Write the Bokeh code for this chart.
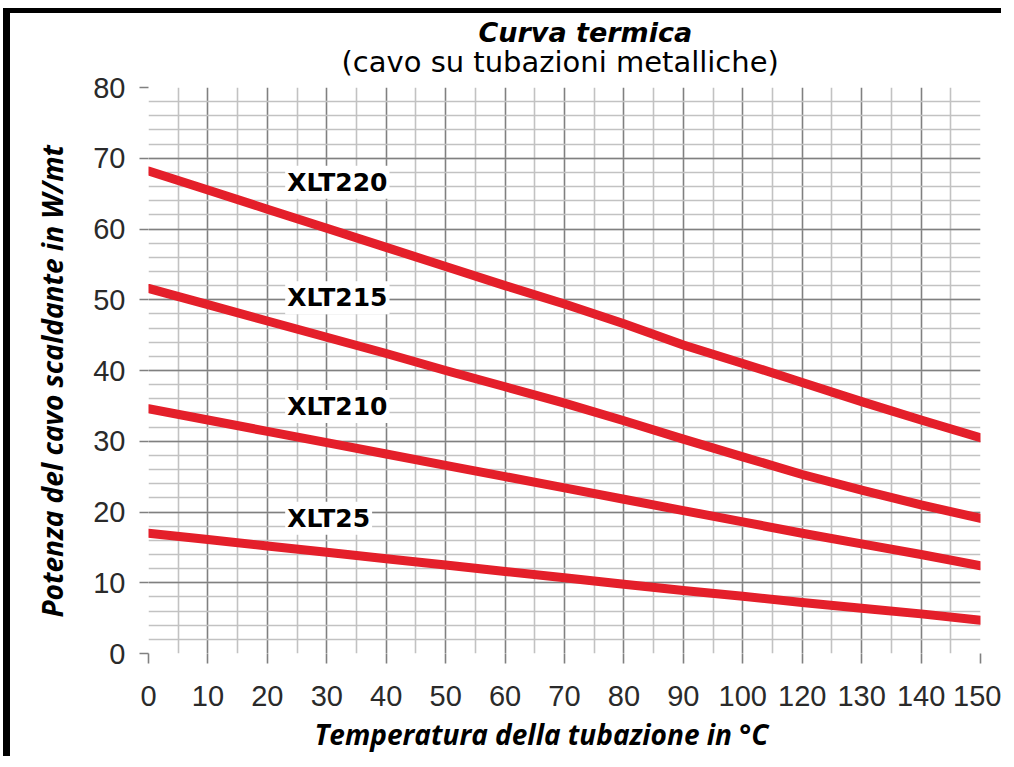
from bokeh.plotting import figure
from bokeh.models import FixedTicker, Label, Title
from bokeh.embed import file_html
from bokeh.resources import INLINE

# ---- data ----
x_labels = ["0", "10", "20", "30", "40", "50", "60", "70", "80", "90",
            "100", "120", "130", "140", "150"]
xlt220 = [68.2, 65.5, 62.8, 60.1, 57.4, 54.7, 52.0, 49.4, 46.6, 43.6, 41.0, 38.3, 35.6, 33.0, 30.5]
xlt215 = [51.6, 49.3, 47.0, 44.7, 42.4, 40.0, 37.7, 35.4, 32.9, 30.3, 27.8, 25.3, 23.1, 21.0, 19.1]
xlt210 = [34.6, 33.0, 31.4, 29.8, 28.2, 26.6, 25.0, 23.4, 21.8, 20.2, 18.6, 17.0, 15.5, 14.0, 12.4]
xlt25 = [17.0, 16.1, 15.2, 14.3, 13.4, 12.5, 11.6, 10.7, 9.8, 8.9, 8.1, 7.2, 6.4, 5.6, 4.7]
series_names = ["XLT220", "XLT215", "XLT210", "XLT25"]
y_ticks = [0, 10, 20, 30, 40, 50, 60, 70, 80]

xpos = list(range(len(x_labels)))

p = figure(width=998, height=748, output_backend="svg", toolbar_location=None,
           x_range=(0, len(x_labels) - 1), y_range=(0, 80),
           min_border_left=137, min_border_right=28, min_border_top=74, min_border_bottom=108)
p.styles = {"border-left": "7px solid black", "border-top": "5px solid black",
            "margin-left": "3px", "margin-top": "8px"}
p.outline_line_color = None
p.background_fill_color = "white"
p.border_fill_color = "white"

# tickers
p.xaxis.ticker = FixedTicker(ticks=xpos, minor_ticks=[i + 0.5 for i in xpos[:-1]])
p.xaxis.major_label_overrides = {i: lab for i, lab in enumerate(x_labels)}
p.yaxis.ticker = FixedTicker(ticks=y_ticks, minor_ticks=list(range(0, 81, 2)))

# grid
for g in (p.xgrid, p.ygrid):
    g.grid_line_color = "#808080"
    g.grid_line_width = 1.6
    g.minor_grid_line_color = "#c2c2c2"
    g.minor_grid_line_width = 1.6

# axes
for ax in (p.xaxis, p.yaxis):
    ax.axis_line_color = None
    ax.major_tick_line_color = "#808080"
    ax.major_tick_line_width = 1.6
    ax.major_tick_in = 0
    ax.minor_tick_line_color = None
    ax.major_label_text_font = "Liberation Sans"
    ax.major_label_text_font_size = "29px"
    ax.major_label_text_color = "#2a2a2a"

p.xaxis.major_tick_out = 10
p.xaxis.major_label_standoff = 22
p.yaxis.major_tick_out = 9
p.yaxis.major_label_standoff = 14

# titles (first added above is nearest to the frame)
p.add_layout(Title(text="(cavo su tubazioni metalliche)", align="left", offset=193,
                   text_font="DejaVu Sans", text_font_style="normal",
                   text_font_size="29px", text_color="black", standoff=18), "above")
p.add_layout(Title(text="Curva termica", align="left", offset=330,
                   text_font="DejaVu Sans", text_font_style="bold italic",
                   text_font_size="27px", text_color="black", standoff=-29), "above")
# axis titles
p.add_layout(Title(text="Temperatura della tubazione in °C", align="left", offset=166,
                   text_font="Open Sans", text_font_style="bold italic",
                   text_font_size="28px", text_color="black", standoff=8), "below")
p.add_layout(Title(text="Potenza del cavo scaldante in W/mt", align="left", offset=36,
                   text_font="Open Sans", text_font_style="bold italic",
                   text_font_size="28px", text_color="black", standoff=40), "left")

# curves
red = "#e41f2a"
for ys in (xlt220, xlt215, xlt210, xlt25):
    p.line(xpos, ys, line_color=red, line_width=9, line_cap="round", line_join="round")

# labels
label_y = [66.6, 50.3, 34.9, 19.1]
for name, ly in zip(series_names, label_y):
    p.add_layout(Label(x=2.3, y=ly, text=name, text_font="DejaVu Sans",
                       text_font_style="bold", text_font_size="25px",
                       text_color="black", text_baseline="middle", text_align="left",
                       background_fill_color="white", padding=2))

open("out.html", "w").write(file_html(p, INLINE))
